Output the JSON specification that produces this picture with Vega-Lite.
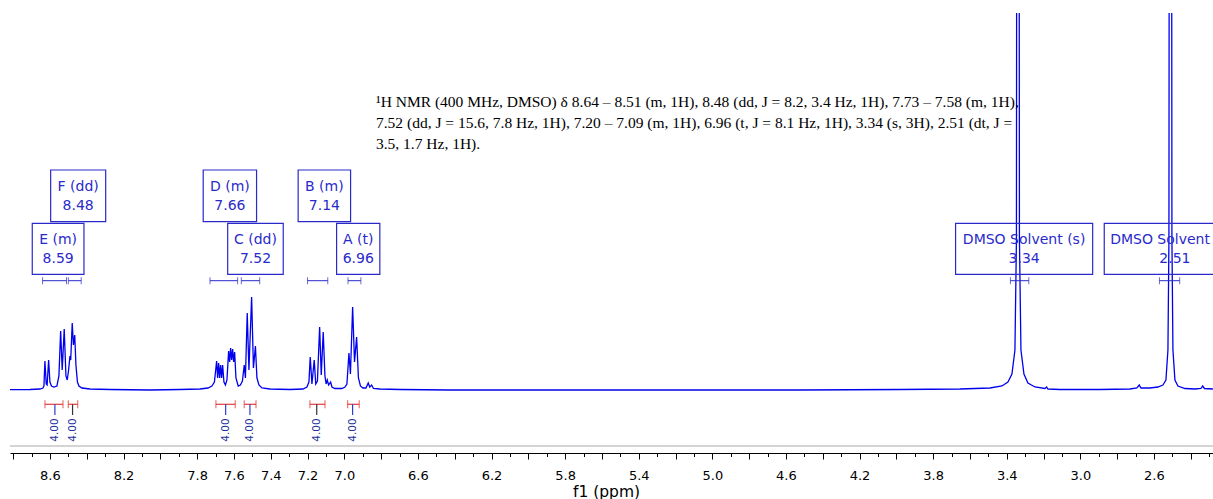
{
  "$schema": "https://vega.github.io/schema/vega-lite/v6.json",
  "width": 1203,
  "height": 440,
  "autosize": {"type": "none"},
  "padding": {"left": 10, "top": 13, "right": 0, "bottom": 46},
  "background": "white",
  "config": {"view": {"stroke": null}, "font": "DejaVu Sans"},
  "resolve": {"axis": {"x": "independent"}},
  "datasets": {
    "spectrum": [
      {"ppm": 8.8174, "intensity": 0.3}, {"ppm": 8.7087, "intensity": 0.5}, {"ppm": 8.6543, "intensity": 1}, {"ppm": 8.638, "intensity": 2},
      {"ppm": 8.6326, "intensity": 4}, {"ppm": 8.6272, "intensity": 29}, {"ppm": 8.6201, "intensity": 6}, {"ppm": 8.6152, "intensity": 5},
      {"ppm": 8.6071, "intensity": 30}, {"ppm": 8.6, "intensity": 8}, {"ppm": 8.5918, "intensity": 4}, {"ppm": 8.5783, "intensity": 3},
      {"ppm": 8.562, "intensity": 4}, {"ppm": 8.5511, "intensity": 14}, {"ppm": 8.5418, "intensity": 59}, {"ppm": 8.5332, "intensity": 20},
      {"ppm": 8.5223, "intensity": 61}, {"ppm": 8.513, "intensity": 14}, {"ppm": 8.506, "intensity": 10}, {"ppm": 8.4984, "intensity": 20},
      {"ppm": 8.4913, "intensity": 34}, {"ppm": 8.487, "intensity": 30}, {"ppm": 8.4788, "intensity": 67}, {"ppm": 8.4723, "intensity": 45},
      {"ppm": 8.4652, "intensity": 55}, {"ppm": 8.4587, "intensity": 25}, {"ppm": 8.4505, "intensity": 8}, {"ppm": 8.4424, "intensity": 4},
      {"ppm": 8.4261, "intensity": 2}, {"ppm": 8.3826, "intensity": 1}, {"ppm": 8.2739, "intensity": 0.5}, {"ppm": 8.0565, "intensity": 0},
      {"ppm": 7.8935, "intensity": 0.5}, {"ppm": 7.7848, "intensity": 1}, {"ppm": 7.7413, "intensity": 2}, {"ppm": 7.7196, "intensity": 4},
      {"ppm": 7.706, "intensity": 8}, {"ppm": 7.694, "intensity": 29}, {"ppm": 7.6886, "intensity": 12}, {"ppm": 7.6832, "intensity": 27},
      {"ppm": 7.6777, "intensity": 12}, {"ppm": 7.6723, "intensity": 25}, {"ppm": 7.6668, "intensity": 12}, {"ppm": 7.6614, "intensity": 25},
      {"ppm": 7.6543, "intensity": 8}, {"ppm": 7.6462, "intensity": 5}, {"ppm": 7.638, "intensity": 10}, {"ppm": 7.6288, "intensity": 39},
      {"ppm": 7.6234, "intensity": 28}, {"ppm": 7.6179, "intensity": 42}, {"ppm": 7.6125, "intensity": 30}, {"ppm": 7.6071, "intensity": 41},
      {"ppm": 7.6016, "intensity": 28}, {"ppm": 7.5962, "intensity": 38}, {"ppm": 7.5891, "intensity": 12}, {"ppm": 7.5766, "intensity": 4},
      {"ppm": 7.5647, "intensity": 5}, {"ppm": 7.5538, "intensity": 9}, {"ppm": 7.544, "intensity": 25}, {"ppm": 7.5375, "intensity": 12},
      {"ppm": 7.5277, "intensity": 77}, {"ppm": 7.5185, "intensity": 20}, {"ppm": 7.5038, "intensity": 93}, {"ppm": 7.494, "intensity": 22},
      {"ppm": 7.4832, "intensity": 44}, {"ppm": 7.475, "intensity": 12}, {"ppm": 7.4641, "intensity": 5}, {"ppm": 7.4478, "intensity": 2},
      {"ppm": 7.4043, "intensity": 1}, {"ppm": 7.2957, "intensity": 0.5}, {"ppm": 7.225, "intensity": 1}, {"ppm": 7.2033, "intensity": 3},
      {"ppm": 7.1924, "intensity": 8}, {"ppm": 7.1853, "intensity": 33}, {"ppm": 7.1761, "intensity": 6}, {"ppm": 7.1636, "intensity": 30},
      {"ppm": 7.1554, "intensity": 6}, {"ppm": 7.1462, "intensity": 9}, {"ppm": 7.1342, "intensity": 63}, {"ppm": 7.1255, "intensity": 15},
      {"ppm": 7.1147, "intensity": 58}, {"ppm": 7.1054, "intensity": 14}, {"ppm": 7.0989, "intensity": 6}, {"ppm": 7.0929, "intensity": 10},
      {"ppm": 7.0853, "intensity": 5}, {"ppm": 7.0745, "intensity": 8}, {"ppm": 7.0674, "intensity": 3}, {"ppm": 7.0511, "intensity": 1.5},
      {"ppm": 7.013, "intensity": 1.5}, {"ppm": 6.9967, "intensity": 3}, {"ppm": 6.9859, "intensity": 6}, {"ppm": 6.975, "intensity": 37},
      {"ppm": 6.9668, "intensity": 16}, {"ppm": 6.9549, "intensity": 83}, {"ppm": 6.9446, "intensity": 28}, {"ppm": 6.9332, "intensity": 53},
      {"ppm": 6.9234, "intensity": 12}, {"ppm": 6.9125, "intensity": 4}, {"ppm": 6.8989, "intensity": 2}, {"ppm": 6.8826, "intensity": 2},
      {"ppm": 6.8701, "intensity": 7}, {"ppm": 6.862, "intensity": 3}, {"ppm": 6.8516, "intensity": 5}, {"ppm": 6.8418, "intensity": 1.5},
      {"ppm": 6.8065, "intensity": 1}, {"ppm": 6.6978, "intensity": 0.5}, {"ppm": 6.4261, "intensity": 0}, {"ppm": 5.6109, "intensity": 0},
      {"ppm": 4.5239, "intensity": 0}, {"ppm": 3.9804, "intensity": 0.5}, {"ppm": 3.6543, "intensity": 1}, {"ppm": 3.4913, "intensity": 2},
      {"ppm": 3.4261, "intensity": 4}, {"ppm": 3.3935, "intensity": 8}, {"ppm": 3.3717, "intensity": 16}, {"ppm": 3.3554, "intensity": 40},
      {"ppm": 3.3473, "intensity": 150}, {"ppm": 3.3391, "intensity": 2000}, {"ppm": 3.331, "intensity": 150}, {"ppm": 3.3228, "intensity": 40},
      {"ppm": 3.3065, "intensity": 16}, {"ppm": 3.2848, "intensity": 7}, {"ppm": 3.2467, "intensity": 3}, {"ppm": 3.1924, "intensity": 1.5},
      {"ppm": 3.1832, "intensity": 3}, {"ppm": 3.1761, "intensity": 1}, {"ppm": 3.1109, "intensity": 0.5}, {"ppm": 2.8935, "intensity": 0.5},
      {"ppm": 2.7304, "intensity": 1}, {"ppm": 2.6924, "intensity": 2}, {"ppm": 2.6799, "intensity": 5}, {"ppm": 2.6707, "intensity": 2},
      {"ppm": 2.6217, "intensity": 2}, {"ppm": 2.5783, "intensity": 3}, {"ppm": 2.5511, "intensity": 5}, {"ppm": 2.5348, "intensity": 10},
      {"ppm": 2.5239, "intensity": 40}, {"ppm": 2.5185, "intensity": 150}, {"ppm": 2.5103, "intensity": 2000}, {"ppm": 2.5022, "intensity": 150},
      {"ppm": 2.4967, "intensity": 40}, {"ppm": 2.4859, "intensity": 10}, {"ppm": 2.4696, "intensity": 4}, {"ppm": 2.4315, "intensity": 1.5},
      {"ppm": 2.3772, "intensity": 1}, {"ppm": 2.3446, "intensity": 1.5}, {"ppm": 2.3353, "intensity": 4}, {"ppm": 2.3255, "intensity": 1.5},
      {"ppm": 2.2793, "intensity": 1}
    ],
    "multiplets": [
      {"id": "E", "label": "E (m)\n8.59", "range_from": 8.64, "range_to": 8.51, "box_from": 8.696, "box_to": 8.415, "box_mid": 8.5555, "row": 2},
      {"id": "F", "label": "F (dd)\n8.48", "range_from": 8.5, "range_to": 8.43, "box_from": 8.596, "box_to": 8.297, "box_mid": 8.4465, "row": 1},
      {"id": "D", "label": "D (m)\n7.66", "range_from": 7.73, "range_to": 7.58, "box_from": 7.767, "box_to": 7.477, "box_mid": 7.622, "row": 1},
      {"id": "C", "label": "C (dd)\n7.52", "range_from": 7.56, "range_to": 7.46, "box_from": 7.634, "box_to": 7.332, "box_mid": 7.483, "row": 2},
      {"id": "B", "label": "B (m)\n7.14", "range_from": 7.2, "range_to": 7.09, "box_from": 7.251, "box_to": 6.966, "box_mid": 7.1085, "row": 1},
      {"id": "A", "label": "A (t)\n6.96", "range_from": 6.98, "range_to": 6.91, "box_from": 7.042, "box_to": 6.807, "box_mid": 6.9245, "row": 2},
      {"id": "S1", "label": "DMSO Solvent (s)\n3.34", "range_from": 3.38, "range_to": 3.28, "box_from": 3.678, "box_to": 2.933, "box_mid": 3.3055, "row": 2},
      {"id": "S2", "label": "DMSO Solvent (dt)\n2.51", "range_from": 2.57, "range_to": 2.46, "box_from": 2.87, "box_to": 2.102, "box_mid": 2.486, "row": 2}
    ],
    "integrals": [
      {"id": "E", "from": 8.627, "to": 8.529, "center": 8.573, "value": 4},
      {"id": "F", "from": 8.5, "to": 8.449, "center": 8.477, "value": 4},
      {"id": "D", "from": 7.698, "to": 7.593, "center": 7.645, "value": 4},
      {"id": "C", "from": 7.544, "to": 7.48, "center": 7.513, "value": 4},
      {"id": "B", "from": 7.187, "to": 7.105, "center": 7.15, "value": 4},
      {"id": "A", "from": 6.982, "to": 6.919, "center": 6.955, "value": 4}
    ],
    "caption": [
      {"ppm": 6.828, "text": "¹H NMR (400 MHz, DMSO) δ 8.64 – 8.51 (m, 1H), 8.48 (dd, J = 8.2, 3.4 Hz, 1H), 7.73 – 7.58 (m, 1H),\n7.52 (dd, J = 15.6, 7.8 Hz, 1H), 7.20 – 7.09 (m, 1H), 6.96 (t, J = 8.1 Hz, 1H), 3.34 (s, 3H), 2.51 (dt, J =\n3.5, 1.7 Hz, 1H)."}
    ]
  },
  "layer": [
    {
      "data": {"name": "caption"},
      "mark": {"type": "rule", "color": "#d4d4d4", "strokeWidth": 2},
      "encoding": {
        "y": {"datum": -56, "scale": {"domain": [-63, 377], "nice": false, "zero": false}, "axis": null}
      }
    },
    {
      "data": {"name": "spectrum"},
      "mark": {"type": "line", "color": "#0000ee", "strokeWidth": 1.3, "clip": true},
      "encoding": {
        "x": {
          "field": "ppm", "type": "quantitative",
          "scale": {"domain": [2.279, 8.817], "reverse": true, "nice": false, "zero": false},
          "axis": {
            "orient": "bottom",
            "title": "f1 (ppm)",
            "values": [8.8,8.6,8.4,8.2,8.0,7.8,7.6,7.4,7.2,7.0,6.8,6.6,6.4,6.2,6.0,5.8,5.6,5.4,5.2,5.0,4.8,4.6,4.4,4.2,4.0,3.8,3.6,3.4,3.2,3.0,2.8,2.6,2.4],
            "format": ".1f",
            "labelExpr": "indexof(['8.6','8.2','7.8','7.6','7.4','7.2','7.0','6.6','6.2','5.8','5.4','5.0','4.6','4.2','3.8','3.4','3.0','2.6'], datum.label) >= 0 ? datum.label : ''",
            "labelOverlap": false,
            "labelFlush": false,
            "labelFont": "DejaVu Sans",
            "labelFontSize": 13,
            "labelColor": "#000000",
            "labelPadding": 10,
            "grid": false,
            "domainColor": "#000000",
            "domainWidth": 1,
            "tickColor": "#000000",
            "tickWidth": 1,
            "tickSize": 6,
            "titleFont": "DejaVu Sans",
            "titleFontSize": 15.5,
            "titleFontWeight": "normal",
            "titleColor": "#000000",
            "titleX": 596,
            "titleY": 43,
            "titleAlign": "center",
            "titleBaseline": "alphabetic"
          }
        },
        "y": {"field": "intensity", "type": "quantitative", "scale": {"domain": [-63, 377], "nice": false, "zero": false}, "axis": null}
      }
    },
    {
      "data": {"name": "multiplets"},
      "mark": {"type": "rule", "color": "#2a2acb", "strokeWidth": 1},
      "encoding": {
        "x": {
          "field": "range_from", "type": "quantitative",
          "scale": {"domain": [2.279, 8.817], "reverse": true, "nice": false, "zero": false},
          "axis": {
            "orient": "bottom",
            "title": null,
            "values": [8.7,8.5,8.3,8.1,7.9,7.7,7.5,7.3,7.1,6.9,6.7,6.5,6.3,6.1,5.9,5.7,5.5,5.3,5.1,4.9,4.7,4.5,4.3,4.1,3.9,3.7,3.5,3.3,3.1,2.9,2.7,2.5,2.3],
            "labels": false,
            "domain": false,
            "grid": false,
            "tickColor": "#000000",
            "tickWidth": 1,
            "tickSize": 3.5
          }
        },
        "x2": {"field": "range_to"},
        "y": {"datum": 109.3, "scale": {"domain": [-63, 377], "nice": false, "zero": false}, "axis": null}
      }
    },
    {
      "data": {"name": "multiplets"},
      "mark": {"type": "tick", "orient": "vertical", "color": "#2a2acb", "thickness": 1, "size": 7},
      "encoding": {
        "x": {"field": "range_from", "type": "quantitative", "scale": {"domain": [2.279, 8.817], "reverse": true, "nice": false, "zero": false}, "axis": null},
        "y": {"datum": 109.3, "scale": {"domain": [-63, 377], "nice": false, "zero": false}, "axis": null}
      }
    },
    {
      "data": {"name": "multiplets"},
      "mark": {"type": "tick", "orient": "vertical", "color": "#2a2acb", "thickness": 1, "size": 7},
      "encoding": {
        "x": {"field": "range_to", "type": "quantitative", "scale": {"domain": [2.279, 8.817], "reverse": true, "nice": false, "zero": false}, "axis": null},
        "y": {"datum": 109.3, "scale": {"domain": [-63, 377], "nice": false, "zero": false}, "axis": null}
      }
    },
    {
      "data": {"name": "multiplets"},
      "transform": [{"filter": "datum.row == 1"}],
      "mark": {"type": "rect", "fill": null, "fillOpacity": 0, "stroke": "#2a2acb", "strokeWidth": 1.2},
      "encoding": {
        "x": {"field": "box_from", "type": "quantitative", "scale": {"domain": [2.279, 8.817], "reverse": true, "nice": false, "zero": false}, "axis": null},
        "x2": {"field": "box_to"},
        "y": {"datum": 220, "scale": {"domain": [-63, 377], "nice": false, "zero": false}, "axis": null},
        "y2": {"datum": 168.3}
      }
    },
    {
      "data": {"name": "multiplets"},
      "transform": [{"filter": "datum.row == 2"}],
      "mark": {"type": "rect", "fill": null, "fillOpacity": 0, "stroke": "#2a2acb", "strokeWidth": 1.2},
      "encoding": {
        "x": {"field": "box_from", "type": "quantitative", "scale": {"domain": [2.279, 8.817], "reverse": true, "nice": false, "zero": false}, "axis": null},
        "x2": {"field": "box_to"},
        "y": {"datum": 166.7, "scale": {"domain": [-63, 377], "nice": false, "zero": false}, "axis": null},
        "y2": {"datum": 115.7}
      }
    },
    {
      "data": {"name": "multiplets"},
      "transform": [{"filter": "datum.row == 1"}],
      "mark": {"type": "text", "color": "#2a2acb", "font": "DejaVu Sans", "fontSize": 14, "lineBreak": "\n", "lineHeight": 19, "align": "center", "baseline": "middle"},
      "encoding": {
        "x": {"field": "box_mid", "type": "quantitative", "scale": {"domain": [2.279, 8.817], "reverse": true, "nice": false, "zero": false}, "axis": null},
        "y": {"datum": 203.3, "scale": {"domain": [-63, 377], "nice": false, "zero": false}, "axis": null},
        "text": {"field": "label"}
      }
    },
    {
      "data": {"name": "multiplets"},
      "transform": [{"filter": "datum.row == 2"}],
      "mark": {"type": "text", "color": "#2a2acb", "font": "DejaVu Sans", "fontSize": 14, "lineBreak": "\n", "lineHeight": 19, "align": "center", "baseline": "middle"},
      "encoding": {
        "x": {"field": "box_mid", "type": "quantitative", "scale": {"domain": [2.279, 8.817], "reverse": true, "nice": false, "zero": false}, "axis": null},
        "y": {"datum": 150, "scale": {"domain": [-63, 377], "nice": false, "zero": false}, "axis": null},
        "text": {"field": "label"}
      }
    },
    {
      "data": {"name": "integrals"},
      "mark": {"type": "rule", "color": "#e23b3b", "strokeWidth": 1.2},
      "encoding": {
        "x": {"field": "from", "type": "quantitative", "scale": {"domain": [2.279, 8.817], "reverse": true, "nice": false, "zero": false}, "axis": null},
        "x2": {"field": "to"},
        "y": {"datum": -14.3, "scale": {"domain": [-63, 377], "nice": false, "zero": false}, "axis": null}
      }
    },
    {
      "data": {"name": "integrals"},
      "mark": {"type": "tick", "orient": "vertical", "color": "#e23b3b", "thickness": 1.2, "size": 8},
      "encoding": {
        "x": {"field": "from", "type": "quantitative", "scale": {"domain": [2.279, 8.817], "reverse": true, "nice": false, "zero": false}, "axis": null},
        "y": {"datum": -14.3, "scale": {"domain": [-63, 377], "nice": false, "zero": false}, "axis": null}
      }
    },
    {
      "data": {"name": "integrals"},
      "mark": {"type": "tick", "orient": "vertical", "color": "#e23b3b", "thickness": 1.2, "size": 8},
      "encoding": {
        "x": {"field": "to", "type": "quantitative", "scale": {"domain": [2.279, 8.817], "reverse": true, "nice": false, "zero": false}, "axis": null},
        "y": {"datum": -14.3, "scale": {"domain": [-63, 377], "nice": false, "zero": false}, "axis": null}
      }
    },
    {
      "data": {"name": "integrals"},
      "mark": {"type": "rule", "strokeWidth": 1.2},
      "encoding": {
        "x": {"field": "center", "type": "quantitative", "scale": {"domain": [2.279, 8.817], "reverse": true, "nice": false, "zero": false}, "axis": null},
        "y": {"datum": -14.3, "scale": {"domain": [-63, 377], "nice": false, "zero": false}, "axis": null},
        "y2": {"datum": -25},
        "color": {"condition": {"test": "datum.id === 'F' || datum.id === 'B'", "value": "#333333"}, "value": "#2b3fd0"}
      }
    },
    {
      "data": {"name": "integrals"},
      "mark": {"type": "text", "color": "#23329a", "font": "DejaVu Sans", "fontSize": 10.5, "angle": 270, "align": "center", "baseline": "middle"},
      "encoding": {
        "x": {"field": "center", "type": "quantitative", "scale": {"domain": [2.279, 8.817], "reverse": true, "nice": false, "zero": false}, "axis": null},
        "y": {"datum": -40, "scale": {"domain": [-63, 377], "nice": false, "zero": false}, "axis": null},
        "text": {"field": "value", "type": "quantitative", "format": ".2f"}
      }
    },
    {
      "data": {"name": "caption"},
      "mark": {"type": "text", "color": "#000000", "font": "Liberation Serif", "fontSize": 15.5, "lineBreak": "\n", "lineHeight": 21, "align": "left", "baseline": "middle"},
      "encoding": {
        "x": {"field": "ppm", "type": "quantitative", "scale": {"domain": [2.279, 8.817], "reverse": true, "nice": false, "zero": false}, "axis": null},
        "y": {"datum": 288, "scale": {"domain": [-63, 377], "nice": false, "zero": false}, "axis": null},
        "text": {"field": "text"}
      }
    }
  ]
}
